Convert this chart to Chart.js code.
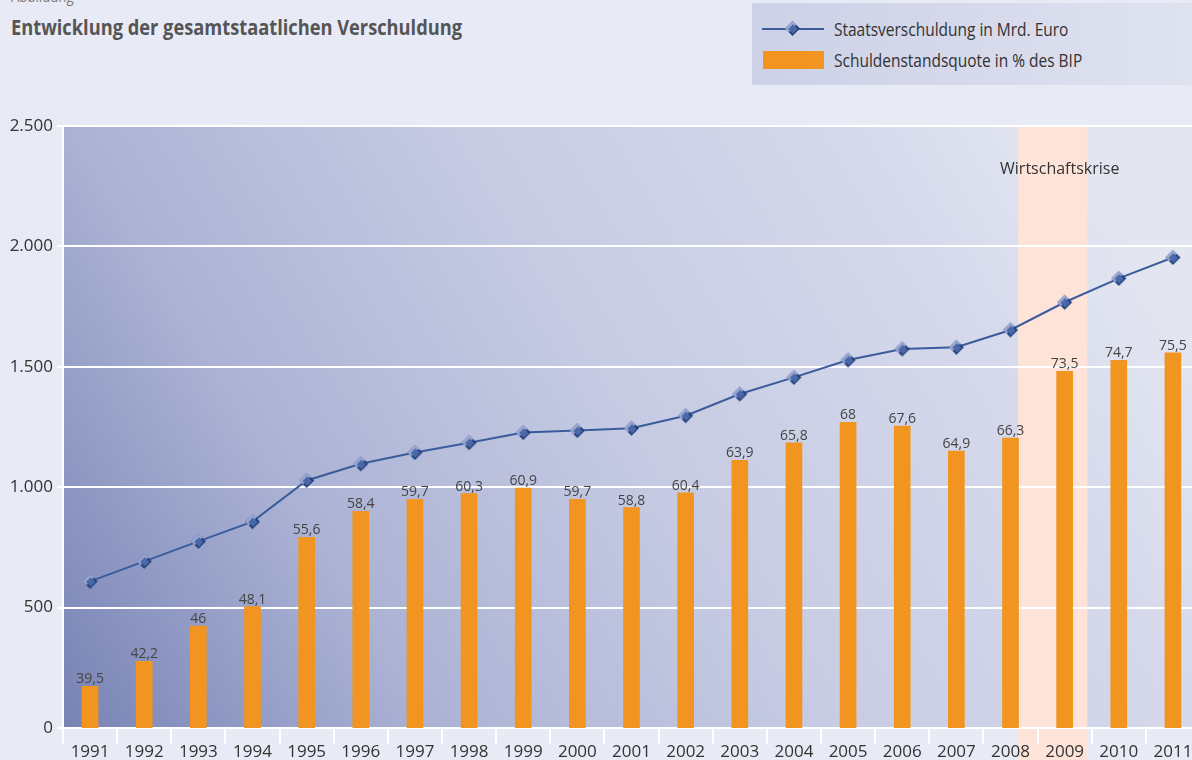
<!DOCTYPE html>
<html lang="de">
<head>
<meta charset="UTF-8" />
<title>Entwicklung der gesamtstaatlichen Verschuldung</title>
<script src="https://cdn.jsdelivr.net/npm/chart.js"></script>
<style>
  html,
  body {
    margin: 0;
    padding: 0;
  }
  body {
    position: relative;
    width: 1192px;
    height: 760px;
    overflow: hidden;
    background: #e8ebf5;
    font-family: "Open Sans", sans-serif;
    color: #333;
  }
  .kicker {
    position: absolute;
    left: 11px;
    top: -12px;
    font-size: 15px;
    line-height: 16px;
    color: #7a7a7a;
    transform: scaleX(0.88);
    transform-origin: left center;
  }
  h1 {
    position: absolute;
    left: 11px;
    top: 15px;
    margin: 0;
    font-size: 22px;
    line-height: 22px;
    font-weight: bold;
    color: #555;
    white-space: nowrap;
    transform: scaleX(0.83);
    transform-origin: left center;
  }
  .chartBox {
    position: absolute;
    left: 0;
    top: 0;
  }
  .legend {
    position: absolute;
    left: 752px;
    top: 3px;
    width: 440px;
    height: 82px;
    background: linear-gradient(to right, #cdd1e7, #dfe2ef);
  }
  .legend canvas {
    position: absolute;
    left: 10px;
    top: 18px;
  }
  .legend .box {
    position: absolute;
    left: 11px;
    top: 48px;
    width: 61px;
    height: 18px;
    background: #f29420;
  }
  .legend span {
    position: absolute;
    left: 82px;
    font-size: 18px;
    line-height: 18px;
    color: #333;
    white-space: nowrap;
    transform: scaleX(0.86);
    transform-origin: left center;
  }
</style>
</head>
<body>
<div class="kicker">Abbildung</div>
<h1>Entwicklung der gesamtstaatlichen Verschuldung</h1>
<div class="chartBox"><canvas id="myChart" width="1206" height="760"></canvas></div>
<div class="legend">
  <canvas id="legendLine" width="62" height="16"></canvas>
  <span style="top: 17px">Staatsverschuldung in Mrd. Euro</span>
  <div class="box"></div>
  <span style="top: 48px">Schuldenstandsquote in % des BIP</span>
</div>
<script>
const jahre = [
  "1991", "1992", "1993", "1994", "1995", "1996", "1997", "1998", "1999", "2000",
  "2001", "2002", "2003", "2004", "2005", "2006", "2007", "2008", "2009", "2010", "2011",
];
// Mrd. Euro (linke Achse)
const staatsverschuldung = [
  609, 692, 775, 857, 1028, 1097, 1144, 1185, 1227, 1235,
  1245, 1297, 1387, 1456, 1528, 1574, 1581, 1653, 1768, 1867, 1954,
];
// % des BIP (Balken)
const schuldenquote = [
  39.5, 42.2, 46, 48.1, 55.6, 58.4, 59.7, 60.3, 60.9, 59.7,
  58.8, 60.4, 63.9, 65.8, 68, 67.6, 64.9, 66.3, 73.5, 74.7, 75.5,
];
const yTickLabels = ["0", "500", "1.000", "1.500", "2.000", "2.500"];
// Wirtschaftskrise: von ... bis (Kategorie-Index)
const krisenBereich = [17.14, 18.42];
const krisenText = "Wirtschaftskrise";

const FONT = '"Open Sans", sans-serif';

// DIAMOND MARKER
function buildDiamond(size) {
  const d = document.createElement("canvas");
  d.width = size;
  d.height = size;
  const c = d.getContext("2d");
  const m = size / 2;
  const r = m - 1;
  c.beginPath();
  c.moveTo(m, m - r);
  c.lineTo(m + r, m);
  c.lineTo(m, m + r);
  c.lineTo(m - r, m);
  c.closePath();
  c.fillStyle = "#22407c";
  c.fill();
  c.beginPath();
  c.moveTo(m, m - r);
  c.lineTo(m + r * 0.5, m - r * 0.5);
  c.lineTo(m - r * 0.5, m + r * 0.5);
  c.lineTo(m - r, m);
  c.closePath();
  c.fillStyle = "#9ba7d3";
  c.fill();
  const r2 = r * 0.62;
  c.beginPath();
  c.moveTo(m + 0.5, m - r2 + 0.5);
  c.lineTo(m + r2 + 0.5, m + 0.5);
  c.lineTo(m + 0.5, m + r2 + 0.5);
  c.lineTo(m - r2 + 0.5, m + 0.5);
  c.closePath();
  c.fillStyle = "#4b68a9";
  c.fill();
  return d;
}
const diamond = buildDiamond(17);

// LEGEND LINE SYMBOL
const lc = document.getElementById("legendLine").getContext("2d");
lc.strokeStyle = "#3a5c9c";
lc.lineWidth = 2;
lc.beginPath();
lc.moveTo(0, 8);
lc.lineTo(62, 8);
lc.stroke();
lc.drawImage(diamond, 22, -1);

// PLOT BACKGROUND + CRISIS BAND
const hintergrund = {
  id: "hintergrund",
  beforeDraw(chart) {
    const { ctx: c, chartArea: a, scales } = chart;
    const g = c.createLinearGradient(a.left, a.bottom, a.left + 1000, a.top);
    g.addColorStop(0, "#7883b4");
    g.addColorStop(0.27, "#abb2d4");
    g.addColorStop(0.55, "#c6cbe3");
    g.addColorStop(0.84, "#d6d9eb");
    g.addColorStop(1, "#e3e6f1");
    c.save();
    c.fillStyle = g;
    c.fillRect(a.left, a.top, a.right - a.left, a.bottom - a.top);
    const x0 = scales.x.getPixelForValue(krisenBereich[0]);
    const x1 = scales.x.getPixelForValue(krisenBereich[1]);
    c.fillStyle = "#fde3d8";
    c.fillRect(x0, a.top, x1 - x0, chart.height - a.top);
    c.fillStyle = "#333";
    c.font = "16px " + FONT;
    c.textAlign = "center";
    c.textBaseline = "alphabetic";
    c.fillText(krisenText, (x0 + x1) / 2 + 7, scales.y.getPixelForValue(2300));
    c.restore();
  },
};

// VALUE LABELS ABOVE BARS
const barLabels = {
  id: "barLabels",
  afterDatasetsDraw(chart) {
    const c = chart.ctx;
    const meta = chart.getDatasetMeta(1);
    c.save();
    c.font = "14px " + FONT;
    c.fillStyle = "#444";
    c.textAlign = "center";
    c.textBaseline = "alphabetic";
    meta.data.forEach((bar, i) => {
      c.fillText(String(schuldenquote[i]).replace(".", ","), bar.x, bar.y - 3);
    });
    c.restore();
  },
};

const ctx = document.getElementById("myChart").getContext("2d");
const myChartObj = new Chart(ctx, {
  data: {
    labels: jahre,
    datasets: [
      {
        type: "line",
        label: "Staatsverschuldung in Mrd. Euro",
        data: staatsverschuldung,
        yAxisID: "y",
        borderColor: "#3a5c9c",
        borderWidth: 2,
        pointStyle: diamond,
        tension: 0,
        order: 0,
      },
      {
        type: "bar",
        label: "Schuldenstandsquote in % des BIP",
        data: schuldenquote,
        yAxisID: "y1",
        backgroundColor: "#f29420",
        barThickness: 16,
        order: 1,
      },
    ],
  },
  options: {
    responsive: false,
    animation: false,
    layout: {
      padding: { top: 126, right: 1, left: 0, bottom: 0 },
    },
    plugins: {
      legend: { display: false },
      tooltip: { enabled: false },
    },
    scales: {
      x: {
        offset: true,
        grid: {
          offset: true,
          drawOnChartArea: false,
          drawTicks: true,
          tickLength: 16,
          color: "#ffffff",
          lineWidth: 2,
        },
        border: { color: "#ffffff", width: 2 },
        ticks: {
          color: "#333",
          font: { family: FONT, size: 17 },
          padding: -2,
          maxRotation: 0,
          autoSkip: false,
        },
        afterFit(scale) {
          scale.height = 32;
        },
      },
      y: {
        position: "left",
        min: 0,
        max: 2500,
        ticks: {
          stepSize: 500,
          color: "#333",
          font: { family: FONT, size: 17 },
          padding: 4,
          callback: (v, i) => yTickLabels[i],
        },
        grid: {
          color: "#ffffff",
          lineWidth: 2,
          tickLength: 6,
          drawTicks: true,
        },
        border: { color: "#ffffff", width: 2 },
        afterFit(scale) {
          scale.width = 63;
        },
      },
      y1: {
        display: false,
        min: 35,
        max: 100,
      },
    },
  },
  plugins: [hintergrund, barLabels],
});
</script>
</body>
</html>
